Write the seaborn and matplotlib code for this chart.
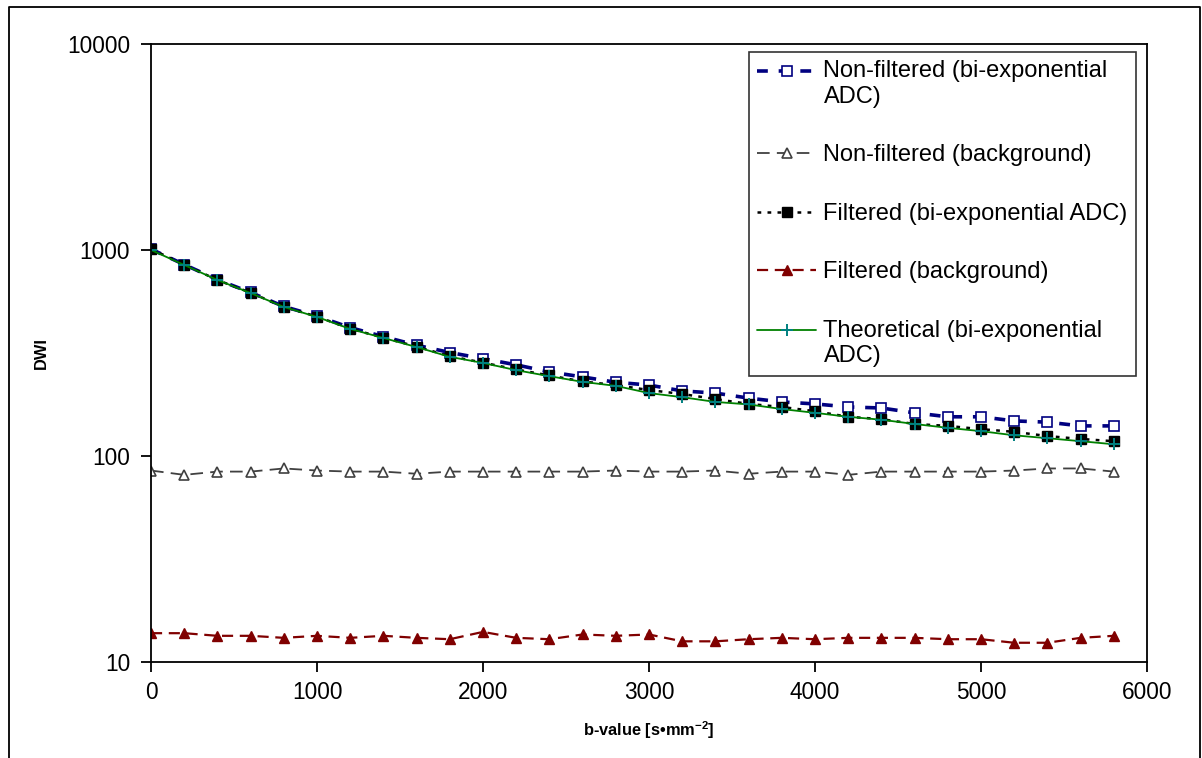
import numpy as np
import pandas as pd
import matplotlib
matplotlib.use("Agg")
import matplotlib.pyplot as plt
import matplotlib.ticker as mticker
from matplotlib.lines import Line2D
from matplotlib.legend_handler import HandlerLine2D
import seaborn as sns

# ---- data ----
b_values = [0, 200, 400, 600, 800, 1000, 1200, 1400, 1600, 1800,
            2000, 2200, 2400, 2600, 2800, 3000, 3200, 3400, 3600, 3800,
            4000, 4200, 4400, 4600, 4800, 5000, 5200, 5400, 5600, 5800]

nonfilt_biexp = [1010, 850, 718, 622, 532, 478, 420, 380, 345, 318,
                 297, 277, 256, 242, 228, 221, 207, 202, 191, 183,
                 179, 173, 171, 162, 155, 155, 148, 146, 140, 140]

nonfilt_bg = [85, 81, 84, 84, 87, 85, 84, 84, 82, 84,
              84, 84, 84, 84, 85, 84, 84, 85, 82, 84,
              84, 81, 84, 84, 84, 84, 85, 87, 87, 84]

filt_biexp = [1010, 850, 715, 620, 530, 475, 415, 375, 340, 305,
              284, 263, 246, 230, 221, 209, 200, 189, 179, 173,
              165, 155, 151, 143, 140, 135, 131, 125, 121, 118]

filt_bg = [13.8, 13.8, 13.4, 13.4, 13.1, 13.4, 13.1, 13.4, 13.1, 12.9,
           14.0, 13.1, 12.9, 13.6, 13.4, 13.6, 12.6, 12.6, 12.9, 13.1,
           12.9, 13.1, 13.1, 13.1, 12.9, 12.9, 12.4, 12.4, 13.1, 13.4]

theoretical = [1000, 846, 715, 618, 529, 473, 414, 374, 338, 303,
               283, 261, 244, 229, 219, 202, 193, 183, 178, 169,
               162, 155, 150, 143, 137, 132, 126, 122, 118, 114]

labels = ["Non-filtered (bi-exponential\nADC)",
          "Non-filtered (background)",
          "Filtered (bi-exponential ADC)",
          "Filtered (background)",
          "Theoretical (bi-exponential\nADC)"]

x_ticks = [0, 1000, 2000, 3000, 4000, 5000, 6000]
y_ticks = [10, 100, 1000, 10000]

# ---- style ----
sns.set_theme(style="ticks")
plt.rcParams['font.family'] = ['Liberation Sans', 'DejaVu Sans']
plt.rcParams['text.color'] = 'black'
plt.rcParams['axes.labelcolor'] = 'black'
plt.rcParams['mathtext.fontset'] = 'custom'
plt.rcParams['mathtext.rm'] = 'Liberation Sans'
plt.rcParams['mathtext.bf'] = 'Liberation Sans:bold'

fig = plt.figure(figsize=(12.02, 7.58), dpi=100)
ax = fig.add_axes([151/1202, 1-662/758, (1147-151)/1202, (662-44)/758])

series = [
    (nonfilt_biexp, dict(color="#000080", linestyle=(0, (3, 3)), linewidth=2.6,
                         marker="s", markersize=7, markerfacecolor="white",
                         markeredgecolor="#000080", markeredgewidth=1.2)),
    (nonfilt_bg, dict(color="#404040", linestyle=(0, (7, 4)), linewidth=1.3,
                      marker="^", markersize=7.5, markerfacecolor="white",
                      markeredgecolor="#404040", markeredgewidth=1.2)),
    (filt_biexp, dict(color="black", linestyle=(0, (1.5, 2.5)), linewidth=1.8,
                      marker="s", markersize=7, markerfacecolor="black",
                      markeredgecolor="black", markeredgewidth=1.0)),
    (filt_bg, dict(color="#800000", linestyle=(0, (5, 3)), linewidth=1.6,
                   marker="^", markersize=7.5, markerfacecolor="#800000",
                   markeredgecolor="#800000", markeredgewidth=1.0)),
    (theoretical, dict(color="#008000", linestyle="-", linewidth=1.3,
                       marker="+", markersize=8, markerfacecolor="#008080",
                       markeredgecolor="#008080", markeredgewidth=1.4)),
]

for (vals, kw), lab in zip(series, labels):
    df = pd.DataFrame({"b": b_values, "v": vals})
    sns.lineplot(data=df, x="b", y="v", ax=ax, label=lab, **kw)

ax.set_yscale("log")
ax.set_xlim(0, 6000)
ax.set_ylim(10, 10000)
ax.set_xticks(x_ticks)
ax.set_xticklabels([str(t) for t in x_ticks])
ax.yaxis.set_major_locator(mticker.FixedLocator(y_ticks))
ax.yaxis.set_major_formatter(mticker.FixedFormatter([str(t) for t in y_ticks]))
ax.yaxis.set_minor_locator(mticker.NullLocator())
ax.tick_params(axis="both", which="major", direction="out", length=7, width=1.3,
               labelsize=16.3, colors="black", labelcolor="black")
ax.tick_params(axis="x", pad=7)
ax.tick_params(axis="y", pad=8)

for s in ax.spines.values():
    s.set_visible(True)
    s.set_linewidth(1.3)
    s.set_color("black")

ax.set_xlabel("b-value [s•mm$^{\\mathbf{-2}}$]", fontsize=11.8, fontweight="bold", labelpad=11)
ax.set_ylabel("DWI", fontsize=11.8, fontweight="bold")
ax.yaxis.set_label_coords((49 - 151) / 996, 0.5)


class UpHandler(HandlerLine2D):
    def __init__(self, shift, **kw):
        super().__init__(**kw)
        self.shift = shift

    def create_artists(self, legend, orig_handle, xdescent, ydescent, width,
                       height, fontsize, trans):
        return super().create_artists(legend, orig_handle, xdescent,
                                      ydescent - self.shift, width, height,
                                      fontsize, trans)


handles, labs = ax.get_legend_handles_labels()
hmap = {handles[0]: UpHandler(19.5), handles[4]: UpHandler(19.5)}

leg = ax.legend(handles, labs, handler_map=hmap,
                loc="upper right", bbox_to_anchor=(1136/1202, 1-52/758),
                bbox_transform=fig.transFigure, frameon=True, fancybox=False,
                shadow=False, fontsize=17, handlelength=2.5, handletextpad=0.3,
                labelspacing=1.55, borderpad=0.35, borderaxespad=0)
leg.get_frame().set_edgecolor("black")
leg.get_frame().set_linewidth(1.2)
for t in leg.get_texts():
    t.set_color("black")

# outer border
fig.add_artist(Line2D([9/1202, 9/1202, 1200/1202, 1200/1202], [0, 1-7/758, 1-7/758, 0],
                      transform=fig.transFigure, color="black", linewidth=1.3))

fig.savefig("out.png", dpi=100)
